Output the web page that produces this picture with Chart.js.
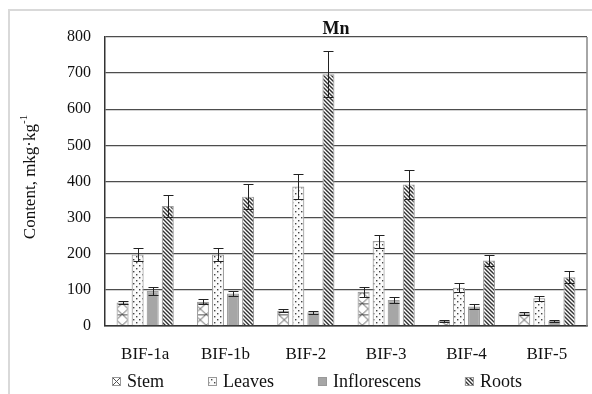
<!DOCTYPE html>
<html>
<head>
<meta charset="utf-8">
<script src="https://cdn.jsdelivr.net/npm/chart.js@4.4.1/dist/chart.umd.min.js"></script>
<style>
  html, body { margin: 0; padding: 0; background: #fff; }
  #wrap { width: 592px; height: 394px; }
</style>
</head>
<body>
<div id="wrap"><canvas id="chart" width="592" height="394"></canvas></div>
<script>
// Data
const categories = ['BIF-1a', 'BIF-1b', 'BIF-2', 'BIF-3', 'BIF-4', 'BIF-5'];
const seriesNames = ['Stem', 'Leaves', 'Inflorescens', 'Roots'];
const stemValues = [65, 67, 42, 95, 14, 35];
const stemErrors = [5, 7, 4, 14, 2, 4];
const leavesValues = [198, 198, 386, 235, 106, 77];
const leavesErrors = [18, 18, 34, 18, 12, 7];
const inflValues = [97, 90, 38, 72, 54, 14];
const inflErrors = [10, 8, 4, 8, 7, 2];
const rootsValues = [332, 358, 697, 392, 181, 135];
const rootsErrors = [30, 35, 63, 40, 15, 17];
const yMin = 0, yMax = 800, yStep = 100;

const SERIF = "'Liberation Serif', 'Times New Roman', serif";
const canvas = document.getElementById('chart');
const mainCtx = canvas.getContext('2d');

// Fill patterns
function makeTile(w, h, bg, draw) {
  const c = document.createElement('canvas');
  c.width = w; c.height = h;
  const x = c.getContext('2d');
  x.fillStyle = bg;
  x.fillRect(0, 0, w, h);
  draw(x);
  return c;
}
function makePattern(tile, dx, dy) {
  const p = mainCtx.createPattern(tile, 'repeat');
  if (dx !== undefined) p.setTransform(new DOMMatrix().translate(dx, dy));
  return p;
}

// big X cells, one per bar width
const crossTile = makeTile(12, 11, '#ffffff', x => {
  x.strokeStyle = '#555';
  x.lineWidth = 1;
  x.beginPath();
  x.moveTo(0, 0); x.lineTo(12, 11);
  x.moveTo(12, 0); x.lineTo(0, 11);
  x.moveTo(0, 0.5); x.lineTo(12, 0.5);
  x.stroke();
});
const smallCrossTile = makeTile(9, 9, '#ffffff', x => {
  x.strokeStyle = '#555';
  x.lineWidth = 1;
  x.beginPath();
  x.moveTo(0, 0); x.lineTo(9, 9);
  x.moveTo(9, 0); x.lineTo(0, 9);
  x.stroke();
});
const dotTile = makeTile(6, 6, '#fbfbfb', x => {
  x.fillStyle = '#444';
  x.fillRect(1, 1, 1.4, 1.4);
  x.fillRect(4, 4, 1.4, 1.4);
});
const stripeTile = makeTile(4, 4, '#ffffff', x => {
  x.strokeStyle = '#333';
  x.lineWidth = 1.4;
  x.beginPath();
  x.moveTo(-1, -1); x.lineTo(5, 5);
  x.moveTo(-1, 3); x.lineTo(1, 5);
  x.moveTo(3, -1); x.lineTo(5, 1);
  x.stroke();
});

const fills = [makePattern(crossTile), makePattern(dotTile), '#a6a6a6', makePattern(stripeTile)];
const valueSets = [stemValues, leavesValues, inflValues, rootsValues];
const errorSets = [stemErrors, leavesErrors, inflErrors, rootsErrors];

// Plugins
const framePlugin = {
  id: 'frame',
  beforeDraw(chart) {
    const ctx = chart.ctx;
    ctx.save();
    ctx.strokeStyle = '#d9d9d9';
    ctx.lineWidth = 2;
    ctx.beginPath();
    ctx.moveTo(9, 394); ctx.lineTo(9, 10); ctx.lineTo(592, 10);
    ctx.stroke();
    ctx.restore();
  },
  // line the X cells up with each stem bar
  beforeDatasetDraw(chart, args) {
    if (args.index !== 0) return;
    args.meta.data.forEach(bar => {
      bar.options.backgroundColor = makePattern(crossTile, bar.x - bar.width / 2, bar.base);
    });
  },
  afterDraw(chart) {
    const a = chart.chartArea, ctx = chart.ctx;
    ctx.save();
    ctx.strokeStyle = '#888';
    ctx.lineWidth = 1.5;
    ctx.beginPath();
    ctx.moveTo(a.right, a.top); ctx.lineTo(a.right, a.bottom);
    ctx.stroke();
    ctx.restore();
  }
};

const errorBarPlugin = {
  id: 'errorBars',
  afterDatasetsDraw(chart) {
    const ctx = chart.ctx, y = chart.scales.y;
    ctx.save();
    ctx.strokeStyle = '#222';
    ctx.lineWidth = 1;
    chart.data.datasets.forEach((ds, di) => {
      chart.getDatasetMeta(di).data.forEach((bar, i) => {
        const v = ds.data[i], e = errorSets[di][i];
        const top = Math.round(y.getPixelForValue(v + e)) + 0.5;
        const bot = Math.round(y.getPixelForValue(v - e)) + 0.5;
        const x = Math.round(bar.x) + 0.5;
        ctx.beginPath();
        ctx.moveTo(x, top); ctx.lineTo(x, bot);
        ctx.moveTo(x - 5, top); ctx.lineTo(x + 5, top);
        ctx.moveTo(x - 5, bot); ctx.lineTo(x + 5, bot);
        ctx.stroke();
      });
    });
    ctx.restore();
  }
};

const textPlugin = {
  id: 'texts',
  afterDraw(chart) {
    const ctx = chart.ctx;
    ctx.save();
    ctx.fillStyle = '#111';
    // title
    ctx.font = 'bold 18px ' + SERIF;
    ctx.textAlign = 'center';
    ctx.textBaseline = 'alphabetic';
    ctx.fillText('Mn', 336, 34);

    // y axis title with superscript
    ctx.translate(35, 177);
    ctx.rotate(-Math.PI / 2);
    ctx.font = '17px ' + SERIF;
    const main = 'Content, mkg·kg';
    const mw = ctx.measureText(main).width;
    ctx.font = '11px ' + SERIF;
    const sw = ctx.measureText('-1').width;
    const start = -(mw + sw) / 2;
    ctx.textAlign = 'left';
    ctx.font = '17px ' + SERIF;
    ctx.fillText(main, start, 0);
    ctx.font = '11px ' + SERIF;
    ctx.fillText('-1', start + mw, -8);
    ctx.restore();

    // legend
    ctx.save();
    ctx.font = '18px ' + SERIF;
    ctx.textBaseline = 'middle';
    ctx.textAlign = 'left';
    const box = 9, gapText = 6, gapItem = 44, cy = 381;
    let x = 112;
    seriesNames.forEach((n, i) => {
      const top = Math.round(cy - box / 2);
      ctx.fillStyle = i === 0 ? makePattern(smallCrossTile, x, top) : fills[i];
      ctx.fillRect(x, top, box, box);
      ctx.strokeStyle = '#999';
      ctx.lineWidth = 1;
      ctx.strokeRect(x + 0.5, top + 0.5, box - 1, box - 1);
      ctx.fillStyle = '#111';
      ctx.fillText(n, x + box + gapText, cy + 1);
      x += box + gapText + ctx.measureText(n).width + gapItem;
    });
    ctx.restore();
  }
};

Chart.defaults.font.family = SERIF;
Chart.defaults.color = '#111';

new Chart(canvas, {
  type: 'bar',
  data: {
    labels: categories,
    datasets: seriesNames.map((name, i) => ({
      label: name,
      data: valueSets[i],
      backgroundColor: fills[i],
      borderColor: '#a0a0a0',
      borderWidth: 1.2,
      categoryPercentage: 0.75,
      barPercentage: 0.8
    }))
  },
  options: {
    responsive: false,
    animation: false,
    devicePixelRatio: 1,
    layout: { padding: { left: 10, right: 5, top: 37, bottom: 28 } },
    plugins: {
      legend: { display: false },
      title: { display: false },
      tooltip: { enabled: false }
    },
    scales: {
      x: {
        grid: { display: false, drawTicks: false },
        border: { color: '#333', width: 1.5 },
        ticks: { font: { size: 17 }, color: '#111', padding: 18 },
        afterFit: s => { s.height = 40; }
      },
      y: {
        min: yMin,
        max: yMax,
        ticks: { stepSize: yStep, font: { size: 16 }, color: '#111', padding: 14 },
        grid: { color: '#4d4d4d', lineWidth: 1.3, drawTicks: false },
        border: { color: '#333', width: 1.5 },
        afterFit: s => { s.width = 95; }
      }
    }
  },
  plugins: [framePlugin, errorBarPlugin, textPlugin]
});
</script>
</body>
</html>
